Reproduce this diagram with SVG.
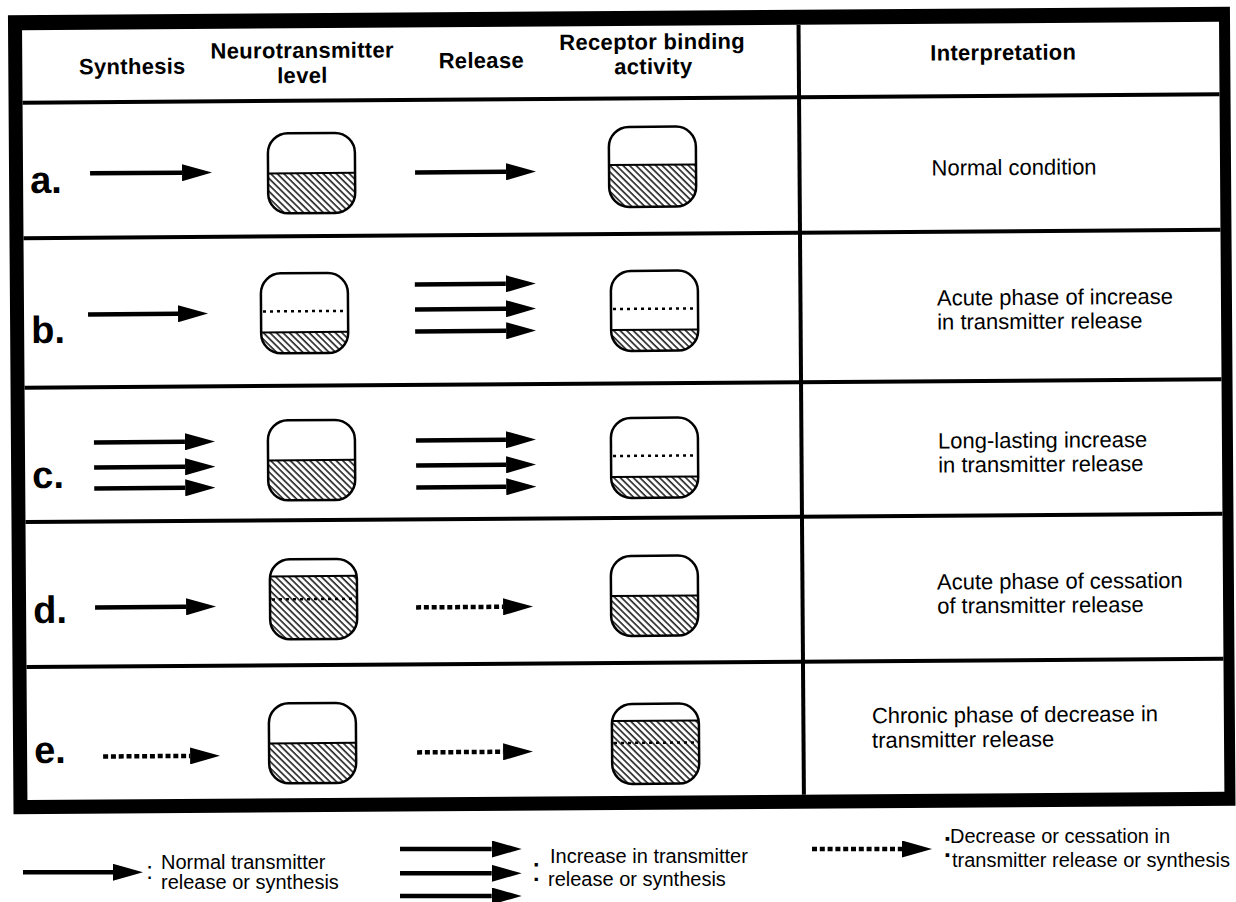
<svg xmlns="http://www.w3.org/2000/svg" width="1236" height="902" viewBox="0 0 1236 902">
<style>
  text { font-family: "Liberation Sans", Arial, Helvetica, sans-serif; fill: #000; }
  .hd { font-weight: bold; font-size: 22px; text-anchor: middle; letter-spacing: 0.3px; }
  .lbl { font-weight: bold; font-size: 38px; }
  .it { font-size: 22px; }
  .lg { font-size: 20px; }
  .col { font-size: 24px; text-anchor: middle; }
  .rule { stroke: #000; stroke-width: 4; fill: none; }
  .ar { stroke: #000; stroke-width: 4.5; fill: none; marker-end: url(#head); }
  .ard { stroke: #000; stroke-width: 4.5; fill: none; stroke-dasharray: 5 2.8; marker-end: url(#head); }
  .cup { fill: none; stroke: #000; stroke-width: 2.5; }
  .hatch { fill: url(#hatch); stroke: none; }
  .lvl { stroke: #000; stroke-width: 2; }
  .dot { stroke: #000; stroke-width: 2.5; stroke-dasharray: 3 4; }
</style>
<defs>
  <marker id="head" viewBox="0 0 30 17" markerWidth="30" markerHeight="17" refX="0" refY="8.5" orient="auto" markerUnits="userSpaceOnUse">
    <path d="M0,0 L30,8.5 L0,17 Z" fill="#000"/>
  </marker>
  <pattern id="hatch" width="4.6" height="4.6" patternUnits="userSpaceOnUse" patternTransform="rotate(-45)">
    <rect width="4.6" height="4.6" fill="#fff"/>
    <line x1="1" y1="0" x2="1" y2="4.6" stroke="#000" stroke-width="1.4"/>
  </pattern>
  <clipPath id="cupclip"><rect x="0" y="0" width="87" height="80" rx="20"/></clipPath>
</defs>
<rect width="1236" height="902" fill="#fff"/>

<g id="table" transform="rotate(-0.4 616 451)">
  <g id="frame">
    <path d="M11,11 H1233 V810 H11 Z M25,26 V796 H1222 V26 Z" fill="#000" fill-rule="evenodd"/>
    <line class="rule" x1="25" y1="98.5" x2="1222" y2="98.5"/>
    <line class="rule" x1="25" y1="234" x2="1222" y2="234"/>
    <line class="rule" x1="25" y1="383.5" x2="1222" y2="383.5"/>
    <line class="rule" x1="25" y1="518" x2="1222" y2="518"/>
    <line class="rule" x1="25" y1="663" x2="1222" y2="663"/>
    <line class="rule" x1="801.5" y1="26" x2="801.5" y2="796"/>
  </g>

  <g id="header">
    <text class="hd" x="135" y="70.6">Synthesis</text>
    <text class="hd" x="305" y="55.8">Neurotransmitter</text>
    <text class="hd" x="305" y="80.8">level</text>
    <text class="hd" x="484" y="67.1">Release</text>
    <text class="hd" x="655" y="49.6">Receptor binding</text>
    <text class="hd" x="656" y="74.3">activity</text>
    <text class="hd" x="1006" y="62.7">Interpretation</text>
  </g>

  <g id="row-a">
    <text class="lbl" x="32" y="189">a.</text>
    <g id="nt-a" transform="translate(270,131)">
      <rect class="hatch" x="0" y="40" width="87" height="40" clip-path="url(#cupclip)"/>
      <line class="lvl" x1="0" y1="40" x2="87" y2="40"/>
      <rect class="cup" width="87" height="80" rx="20"/>
    </g>
    <g id="rb-a" transform="translate(611,127)">
      <rect class="hatch" x="0" y="38" width="87" height="42" clip-path="url(#cupclip)"/>
      <line class="lvl" x1="0" y1="38" x2="87" y2="38"/>
      <rect class="cup" width="87" height="80" rx="20"/>
    </g>
    <text class="it" x="1016" y="177.7" text-anchor="middle">Normal condition</text>
  </g>

  <g id="row-b">
    <text class="lbl" x="32" y="339">b.</text>
    <g id="nt-b" transform="translate(262,271)">
      <rect class="hatch" x="0" y="59" width="87" height="21" clip-path="url(#cupclip)"/>
      <line class="dot" x1="2" y1="38" x2="85" y2="38"/>
      <line class="lvl" x1="0" y1="59" x2="87" y2="59"/>
      <rect class="cup" width="87" height="80" rx="20"/>
    </g>
    <g id="rb-b" transform="translate(612,271)">
      <rect class="hatch" x="0" y="59" width="87" height="21" clip-path="url(#cupclip)"/>
      <line class="dot" x1="2" y1="38" x2="85" y2="38"/>
      <line class="lvl" x1="0" y1="59" x2="87" y2="59"/>
      <rect class="cup" width="87" height="80" rx="20"/>
    </g>
    <text class="it" x="938" y="307.7">Acute phase of increase</text>
    <text class="it" x="938" y="331.7">in transmitter release</text>
  </g>

  <g id="row-c">
    <text class="lbl" x="32" y="484">c.</text>
    <g id="nt-c" transform="translate(268,418)">
      <rect class="hatch" x="0" y="40" width="87" height="40" clip-path="url(#cupclip)"/>
      <line class="lvl" x1="0" y1="40" x2="87" y2="40"/>
      <rect class="cup" width="87" height="80" rx="20"/>
    </g>
    <g id="rb-c" transform="translate(611,418)">
      <rect class="hatch" x="0" y="59" width="87" height="21" clip-path="url(#cupclip)"/>
      <line class="dot" x1="2" y1="38" x2="85" y2="38"/>
      <line class="lvl" x1="0" y1="59" x2="87" y2="59"/>
      <rect class="cup" width="87" height="80" rx="20"/>
    </g>
    <text class="it" x="938" y="450.7">Long-lasting increase</text>
    <text class="it" x="938" y="474.7">in transmitter release</text>
  </g>

  <g id="row-d">
    <text class="lbl" x="32" y="619">d.</text>
    <g id="nt-d" transform="translate(269,557)">
      <rect class="hatch" x="0" y="17" width="87" height="63" clip-path="url(#cupclip)"/>
      <line class="lvl" x1="0" y1="17" x2="87" y2="17"/>
      <line class="dot" x1="2" y1="40" x2="85" y2="40" stroke-width="1.5"/>
      <rect class="cup" width="87" height="80" rx="20"/>
    </g>
    <g id="rb-d" transform="translate(610,556)">
      <rect class="hatch" x="0" y="40" width="87" height="40" clip-path="url(#cupclip)"/>
      <line class="lvl" x1="0" y1="40" x2="87" y2="40"/>
      <rect class="cup" width="87" height="80" rx="20"/>
    </g>
    <text class="it" x="936" y="591.7">Acute phase of cessation</text>
    <text class="it" x="936" y="615.7">of transmitter release</text>
  </g>

  <g id="row-e">
    <text class="lbl" x="32" y="759">e.</text>
    <g id="nt-e" transform="translate(267,701)">
      <rect class="hatch" x="0" y="40" width="87" height="40" clip-path="url(#cupclip)"/>
      <line class="lvl" x1="0" y1="40" x2="87" y2="40"/>
      <rect class="cup" width="87" height="80" rx="20"/>
    </g>
    <g id="rb-e" transform="translate(610,704)">
      <rect class="hatch" x="0" y="17" width="87" height="63" clip-path="url(#cupclip)"/>
      <line class="lvl" x1="0" y1="17" x2="87" y2="17"/>
      <line class="dot" x1="2" y1="39" x2="85" y2="39" stroke-width="1.2"/>
      <rect class="cup" width="87" height="80" rx="20"/>
    </g>
    <text class="it" x="870" y="725">Chronic phase of decrease in</text>
    <text class="it" x="870" y="749.5">transmitter release</text>
  </g>

  <g id="connectors">
    <line class="ar" x1="92" y1="169.7" x2="184" y2="169.7"/>
    <line class="ar" x1="417" y1="171" x2="508" y2="171"/>
    <line class="ar" x1="89" y1="310.7" x2="179" y2="310.7"/>
    <line class="ar" x1="416" y1="283" x2="507" y2="283"/>
    <line class="ar" x1="416" y1="308" x2="507" y2="308"/>
    <line class="ar" x1="416" y1="330" x2="507" y2="330"/>
    <line class="ar" x1="94" y1="438.8" x2="185" y2="438.8"/>
    <line class="ar" x1="94" y1="463.8" x2="185" y2="463.8"/>
    <line class="ar" x1="94" y1="484.8" x2="185" y2="484.8"/>
    <line class="ar" x1="416" y1="439" x2="506" y2="439"/>
    <line class="ar" x1="416" y1="464" x2="506" y2="464"/>
    <line class="ar" x1="416" y1="486" x2="506" y2="486"/>
    <line class="ar" x1="94" y1="603.8" x2="185" y2="603.8"/>
    <line class="ard" x1="415" y1="606" x2="502" y2="606"/>
    <line class="ard" x1="101" y1="752.9" x2="188" y2="752.9"/>
    <line class="ard" x1="415" y1="751" x2="501" y2="751"/>
  </g>
</g>

<g id="legend">
  <g id="legend-normal">
    <line class="ar" x1="23" y1="872.3" x2="113" y2="872.3"/>
    <text class="col" x="149.5" y="878.7">:</text>
    <text class="lg" x="161" y="868.5">Normal transmitter</text>
    <text class="lg" x="161" y="889">release or synthesis</text>
  </g>
  <g id="legend-increase">
    <line class="ar" x1="400" y1="849" x2="491.7" y2="849"/>
    <line class="ar" x1="400" y1="873.3" x2="491.7" y2="873.3"/>
    <line class="ar" x1="400" y1="896" x2="491.7" y2="896"/>
    <text class="col" x="536.2" y="880.7" style="font-size:34px">:</text>
    <text class="lg" x="550" y="862.7">Increase in transmitter</text>
    <text class="lg" x="548" y="886">release or synthesis</text>
  </g>
  <g id="legend-decrease">
    <line class="ard" x1="812" y1="849" x2="902" y2="849"/>
    <text class="col" x="947.3" y="857.3" style="font-size:37px">:</text>
    <text class="lg" x="950" y="843">Decrease or cessation in</text>
    <text class="lg" x="952" y="866.5">transmitter release or synthesis</text>
  </g>
</g>
</svg>
